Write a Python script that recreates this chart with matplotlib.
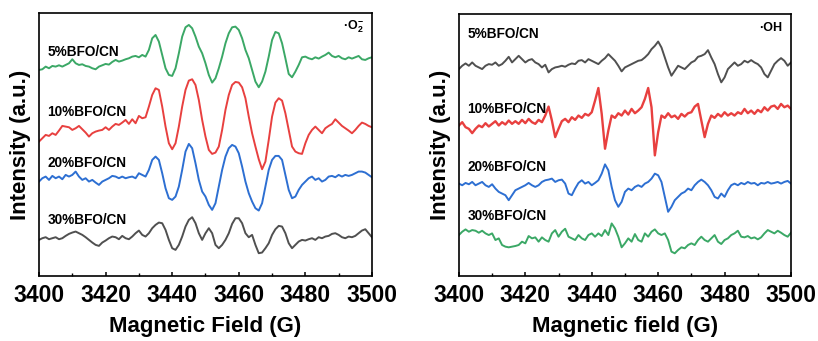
import numpy as np
import matplotlib
matplotlib.use("Agg")
import matplotlib.pyplot as plt
from matplotlib.ticker import MultipleLocator

plt.rcParams["font.family"] = ["Liberation Sans", "DejaVu Sans"]
plt.rcParams["mathtext.fontset"] = "custom"
plt.rcParams["mathtext.rm"] = "Liberation Sans:bold"
plt.rcParams["mathtext.bf"] = "Liberation Sans:bold"
plt.rcParams["mathtext.default"] = "bf"

# === data: field axis (G), 1 G steps ===
field = np.arange(3400, 3501)
samples = ["5%BFO/CN", "10%BFO/CN", "20%BFO/CN", "30%BFO/CN"]

# superoxide (DMPO-O2-) spectra, arbitrary units relative to each baseline
o2_5 = [-10, -8, 0, -5, 2, 0, 4, 0, 5, 10,
        22, 10, 5, 7, 2, 0, -5, -8, 0, 4,
        8, 6, 14, 20, 15, 18, 22, 25, 30, 32,
        28, 35, 30, 50, 85, 95, 75, 35, -5, -25,
        -28, -5, 40, 90, 118, 125, 115, 90, 60, 40,
        10, -25, -48, -35, -5, 30, 70, 100, 118, 120,
        110, 85, 50, 25, -10, -45, -62, -45, -15, 30,
        80, 104, 100, 70, 25, -22, -32, -15, 5, 28,
        30, 25, 22, 28, 24, 30, 35, 42, 32, 28,
        32, 25, 22, 28, 24, 28, 32, 22, 20, 25, 28]
o2_10 = [-25, -15, -5, -8, 0, -5, 8, 22, 20, 18,
         10, 15, 22, 12, 2, -10, 0, 5, 8, 10,
         18, 10, 20, 28, 25, 32, 40, 28, 42, 30,
         52, 45, 48, 80, 115, 135, 130, 80, 20, -30,
         -48, -30, 20, 80, 130, 158, 162, 145, 100, 40,
         -10, -50, -62, -58, -40, 10, 70, 115, 145, 154,
         152, 138, 105, 50, 0, -40, -78, -108, -85, -20,
         50, 92, 105, 98, 60, 10, -40, -55, -60, -62,
         -30, -5, 10, 20, 10, 0, 15, 22, 28, 42,
         32, 22, 15, 8, 0, 10, 22, 32, 28, 22, 18]
o2_20 = [-5, 5, 10, 0, 12, 5, 10, 2, 15, 10,
         15, 25, 10, 0, 5, -5, 0, -8, -15, -5,
         0, 5, 12, 10, 5, 10, 5, 8, 10, 5,
         20, 15, 10, 30, 60, 70, 60, 20, -25, -55,
         -60, -50, -20, 30, 85, 108, 95, 50, 0, -35,
         -50, -75, -90, -70, -20, 30, 70, 95, 105, 100,
         80, 40, -5, -40, -65, -85, -92, -70, -20, 30,
         60, 72, 72, 60, 15, -30, -55, -50, -30, -15,
         -5, 5, 10, 0, 5, -5, 0, 10, 12, 8,
         15, 10, 15, 12, 15, 20, 25, 25, 22, 15, 8]
o2_30 = [0, 5, 8, 2, 5, 8, 2, 5, 12, 18,
         22, 25, 20, 15, 8, 0, -8, -15, -18, -8,
         -2, 5, 10, 8, 2, 12, 5, 2, 10, 20,
         28, 15, 10, 20, 35, 45, 52, 50, 30, 0,
         -25, -30, -15, 10, 40, 60, 68, 50, 20, 0,
         20, 35, 20, -15, -25, -15, 0, 20, 48, 65,
         65, 50, 20, 8, 15, -15, -40, -38, -25, -10,
         15, 32, 42, 40, 20, -10, -25, -15, -5, 0,
         -2, 2, 5, 0, 8, 5, 10, 12, 18, 20,
         15, 8, 5, 10, 8, 12, 20, 28, 32, 20, 8]

# hydroxyl (DMPO-OH) spectra
oh_5 = [-5, 5, 12, 5, 15, 5, 0, -5, 5, 10,
        8, 15, 5, 10, 20, 32, 15, 25, 35, 25,
        15, 22, 25, 15, 10, 0, 8, -15, -5, 0,
        2, 5, 2, 8, 12, 10, 20, 22, 15, 25,
        20, 15, 10, 20, 28, 40, 30, 20, 5, -12,
        0, 5, 10, 15, 20, 22, 30, 40, 55, 65,
        78, 60, 30, 0, -25, -10, 5, 0, -5, 5,
        15, 20, 32, 35, 40, 52, 30, 10, -20, -45,
        -30, -5, 5, 15, 5, 10, 20, 15, 22, 15,
        10, 0, -20, -30, -10, 10, 20, 28, 20, 5, 15]
oh_10 = [-15, -5, -20, -25, -38, -25, -15, -20, -8, -18,
         -10, -2, -15, -5, -12, 0, -10, -2, -10, 2,
         -8, 5, -5, -10, 2, -5, 15, 42, 0, -50,
         -25, -2, 5, -5, 10, 2, 15, 8, 20, 15,
         25, 60, 98, 20, -85, -30, 15, 8, 22, 15,
         30, 18, 35, 22, 30, 40, 65, 98, 40, -105,
         -35, 15, 8, 22, 10, 15, 5, 20, 12, 22,
         25, 42, 50, 0, -50, -10, 15, 8, 20, 12,
         25, 15, 22, 15, 25, 20, 35, 22, 30, 20,
         32, 25, 40, 30, 42, 45, 35, 50, 40, 45, 35]
oh_20 = [0, -5, 2, -2, 5, -5, 0, 5, -5, -10,
         -2, -15, -25, -30, -35, -50, -35, -20, -15, -10,
         -5, 2, -5, -10, -5, 5, 10, 12, 15, 5,
         10, 12, 0, -30, -35, -15, 2, 10, 0, 5,
         -5, 2, 10, 30, 58, 40, -10, -50, -70, -55,
         -25, -15, -20, -10, -5, -10, 0, 5, 15, 30,
         25, 5, -40, -85, -70, -50, -40, -30, -25, -15,
         -20, -5, 5, 12, 5, -5, -20, -40, -45, -30,
         -40, -20, -5, 0, -5, 2, -2, 5, 0, 2,
         -5, 2, 0, 5, 0, 2, 5, 0, 5, 8, 0]
oh_30 = [5, 15, 22, 15, 20, 18, 12, 18, 10, 5,
         10, -10, -5, -25, -30, -32, -30, -28, -25, -15,
         -20, 2, -5, -2, -15, -2, -10, -15, 10, 20,
         0, 15, 24, 0, -5, -10, 5, -5, -10, 5,
         10, 0, 10, 2, 20, 5, 40, 25, 0, -32,
         -20, -5, -15, 8, -10, -15, 10, 0, 15, 22,
         10, 5, 10, -10, -45, -50, -40, -32, -35, -25,
         -20, -25, -10, 0, -10, -15, -5, 5, -15, -22,
         -10, -5, 5, 10, 18, 0, -2, 2, -5, -2,
         -8, -2, 10, 20, 15, 10, 18, 12, 5, 0, 12]

o2_series = [o2_5, o2_10, o2_20, o2_30]
oh_series = [oh_5, oh_10, oh_20, oh_30]

# styling / stacking
green, red, blue, gray = "#3ba866", "#e8403f", "#2d6fd2", "#505050"
o2_colors = [green, red, blue, gray]
oh_colors = [gray, red, blue, green]
o2_widths = [1.4, 1.4, 1.4, 1.4]
oh_widths = [1.4, 1.7, 1.4, 1.4]
o2_offsets = [628, 428, 288, 108]
oh_offsets = [628, 468, 278, 118]
o2_label_y = [673, 493, 338, 168]
oh_label_y = [728, 503, 328, 180]

fig = plt.figure(figsize=(8.18, 3.41), dpi=100)
ax1 = fig.add_axes([0.0477, 0.191, 0.407, 0.771])
ax2 = fig.add_axes([0.561, 0.191, 0.406, 0.768])


def draw_panel(ax, series, colors, widths, offsets, label_y, xlabel, tag):
    for vals, c, w, off in zip(series, colors, widths, offsets):
        ax.plot(field, np.asarray(vals) + off, color=c, lw=w)
    for name, y in zip(samples, label_y):
        ax.text(3402.5, y, name, fontsize=9.8, fontweight="bold",
                va="center", ha="left")
    ax.text(3497.5, 748, tag, fontsize=9, fontweight="bold",
            ha="right", va="center")
    ax.set_xlim(3400, 3500)
    ax.set_ylim(0, 789)
    ax.set_yticks([])
    ax.xaxis.set_major_locator(MultipleLocator(20))
    ax.xaxis.set_minor_locator(MultipleLocator(10))
    ax.tick_params(axis="x", which="major", direction="in", length=3,
                   width=1.1, labelsize=16.5, pad=6)
    ax.tick_params(axis="x", which="minor", direction="in", length=2,
                   width=1.0)
    for lab in ax.get_xticklabels():
        lab.set_fontweight("bold")
    for s in ax.spines.values():
        s.set_linewidth(1.2)
    ax.set_xlabel(xlabel, fontsize=16, fontweight="bold", labelpad=6)
    ax.set_ylabel("Intensity (a.u.)", fontsize=16, fontweight="bold",
                  labelpad=6)


draw_panel(ax1, o2_series, o2_colors, o2_widths, o2_offsets, o2_label_y,
           "Magnetic Field (G)", "·O$_{2}^{-}$")
draw_panel(ax2, oh_series, oh_colors, oh_widths, oh_offsets, oh_label_y,
           "Magnetic field (G)", "·OH")

fig.savefig("out.png", dpi=100)
